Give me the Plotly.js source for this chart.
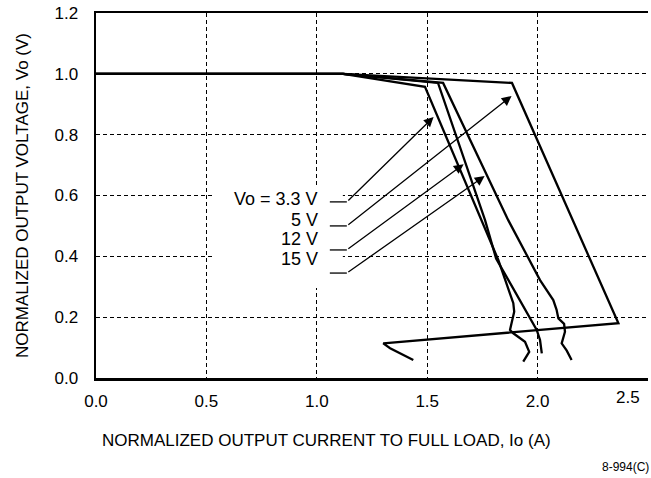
<!DOCTYPE html>
<html>
<head>
<meta charset="utf-8">
<script src="https://cdn.plot.ly/plotly-3.0.1.min.js"></script>
<style>html,body{margin:0;padding:0;background:#fff;}#chart{width:651px;height:478px;}</style>
</head>
<body>
<div id="chart"></div>
<script>
// Normalized output current (x) and normalized output voltage (y) per output-voltage model
const seriesNames = ['Vo = 3.3 V', '5 V', '12 V', '15 V'];

const xV33 = [0, 1.119, 1.490, 1.747, 1.822, 1.890, 1.894, 1.875, 1.890, 1.943, 1.962, 1.935];
const yV33 = [1.0, 1.0, 0.957, 0.519, 0.388, 0.246, 0.218, 0.158, 0.147, 0.119, 0.086, 0.054];

const xV5 = [0, 1.119, 1.549, 1.762, 1.812, 1.996, 2.011, 2.019];
const yV5 = [1.0, 1.0, 0.970, 0.519, 0.393, 0.158, 0.125, 0.081];

const xV12 = [0, 1.119, 1.572, 1.867, 2.011, 2.071, 2.086, 2.094, 2.120, 2.124, 2.109, 2.132, 2.154];
const yV12 = [1.0, 1.0, 0.970, 0.519, 0.322, 0.256, 0.224, 0.196, 0.178, 0.152, 0.114, 0.090, 0.059];

const xV15 = [0, 1.119, 1.884, 2.366, 1.301, 1.332, 1.437];
const yV15 = [1.0, 1.0, 0.970, 0.180, 0.114, 0.098, 0.059];

// arrow tips (where each label points on the plot), in data units
const arrowTipX = [1.529, 1.882, 1.665, 1.760];
const arrowTipY = [0.858, 0.927, 0.703, 0.664];

const xTickVals = [0, 0.5, 1.0, 1.5, 2.0, 2.5];
const xTickText = ['0.0', '0.5', '1.0', '1.5', '2.0', '2.5'];
const yTickVals = [0, 0.2, 0.4, 0.6, 0.8, 1.0, 1.2];
const yTickText = ['0.0', '0.2', '0.4', '0.6', '0.8', '1.0', '1.2'];

const xTitle = 'NORMALIZED OUTPUT CURRENT TO FULL LOAD, Io (A)';
const yTitle = 'NORMALIZED OUTPUT VOLTAGE, Vo (V)';
const figId = '8-994(C)';

const FONT = 'Liberation Sans, Arial, Helvetica, sans-serif';

const xs = [xV33, xV5, xV12, xV15];
const ys = [yV33, yV5, yV12, yV15];
const traces = xs.map((x, i) => ({
  type: 'scatter', mode: 'lines', name: seriesNames[i],
  x: x, y: ys[i],
  line: {color: '#000', width: 2.3, shape: 'linear'},
  hoverinfo: 'skip'
}));

// label layout
const labelRight = 1.014;
const labelY = [0.588, 0.519, 0.457, 0.391];
const leaderY = [0.579, 0.500, 0.421, 0.345];
const leaderX0 = 1.059, leaderX1 = 1.136;

const annotations = [];
const shapes = [{
  type: 'rect', xref: 'x', yref: 'y', x0: 0.538, x1: 1.118, y0: 0.296, y1: 0.628,
  fillcolor: '#fff', line: {width: 0}, layer: 'above'
}];
seriesNames.forEach((name, i) => {
  annotations.push({
    x: labelRight, y: labelY[i], xref: 'x', yref: 'y', xanchor: 'right', yanchor: 'middle',
    text: name, showarrow: false, font: {family: FONT, size: 18, color: '#000'}
  });
  shapes.push({
    type: 'line', xref: 'x', yref: 'y', x0: leaderX0, x1: leaderX1, y0: leaderY[i], y1: leaderY[i],
    line: {color: '#000', width: 1.3}, layer: 'above'
  });
  annotations.push({
    x: arrowTipX[i], y: arrowTipY[i], xref: 'x', yref: 'y',
    ax: leaderX1, ay: leaderY[i], axref: 'x', ayref: 'y',
    text: '', showarrow: true, arrowhead: 2, arrowsize: 1.5, arrowwidth: 1.3, arrowcolor: '#000',
    standoff: 0, startstandoff: 0
  });
});

// x tick label for 2.5 (shifted inward as in the original)
annotations.push({
  x: xTickVals[5], y: 0, xref: 'x', yref: 'y', xanchor: 'center', yanchor: 'top',
  xshift: -20, yshift: -8, text: xTickText[5], showarrow: false,
  font: {family: FONT, size: 17, color: '#000'}
});
// x axis title
annotations.push({
  x: 0.418, y: -0.17, xref: 'paper', yref: 'paper', xanchor: 'center', yanchor: 'middle',
  text: xTitle, showarrow: false, font: {family: FONT, size: 17, color: '#000'}
});
// figure id
annotations.push({
  x: 1.0054, y: -0.244, xref: 'paper', yref: 'paper', xanchor: 'right', yanchor: 'middle',
  text: figId, showarrow: false, font: {family: FONT, size: 12, color: '#000'}
});

const layout = {
  width: 651, height: 478,
  margin: {l: 96, r: 3, t: 13, b: 100, pad: 0},
  paper_bgcolor: '#fff', plot_bgcolor: '#fff',
  showlegend: false,
  font: {family: FONT, size: 17, color: '#000'},
  xaxis: {
    range: [0, 2.5], tickvals: xTickVals.slice(0, 5), ticktext: xTickText.slice(0, 5),
    showgrid: true, gridcolor: '#000', gridwidth: 1.3, griddash: '4px,3px',
    zeroline: false, showline: true, linecolor: '#000', linewidth: 2.5, mirror: true,
    ticks: '', ticklabelstandoff: 6,
    tickfont: {family: FONT, size: 17, color: '#000'}, fixedrange: true
  },
  yaxis: {
    range: [0, 1.2], tickvals: yTickVals, ticktext: yTickText,
    showgrid: true, gridcolor: '#000', gridwidth: 1.3, griddash: '4px,3px',
    zeroline: false, showline: true, linecolor: '#000', linewidth: 2.5, mirror: false,
    ticks: '', ticklabelstandoff: 12,
    tickfont: {family: FONT, size: 17, color: '#000'},
    title: {text: yTitle, font: {family: FONT, size: 17, color: '#000'}, standoff: 22},
    fixedrange: true
  },
  shapes: shapes,
  annotations: annotations
};

Plotly.newPlot('chart', traces, layout, {staticPlot: true, displayModeBar: false});
</script>
</body>
</html>
